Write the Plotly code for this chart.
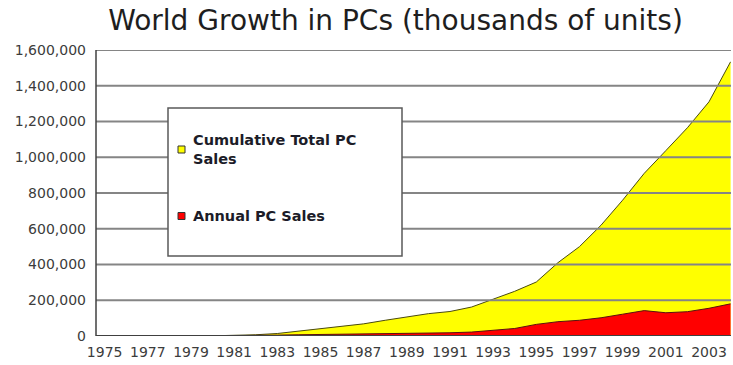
import plotly.graph_objects as go

# World PC sales, thousands of units
years = [1975, 1976, 1977, 1978, 1979, 1980, 1981, 1982, 1983, 1984,
         1985, 1986, 1987, 1988, 1989, 1990, 1991, 1992, 1993, 1994,
         1995, 1996, 1997, 1998, 1999, 2000, 2001, 2002, 2003, 2004]

cumulative_sales = [None, None, None, None, None, 1000, 3000, 7000, 14000, 28000,
                    41000, 53000, 68000, 88000, 107000, 125000, 137000, 162000, 206000, 250000,
                    302000, 410000, 500000, 620000, 760000, 910000, 1037000, 1165000, 1310000, 1534000]

annual_sales = [None, None, None, None, None, 500, 1000, 3000, 5000, 7000,
                8000, 9000, 10000, 12000, 14000, 16000, 18000, 22000, 30000, 42000,
                65000, 80000, 88000, 102000, 122000, 142000, 130000, 136000, 155000, 180000]

x_tick_years = [1975, 1977, 1979, 1981, 1983, 1985, 1987, 1989, 1991, 1993,
                1995, 1997, 1999, 2001, 2003]
y_tick_values = [0, 200000, 400000, 600000, 800000, 1000000, 1200000, 1400000, 1600000]

legend_labels = ["Cumulative Total PC<br>Sales", "Annual PC Sales"]
legend_colors = ["#ffff00", "#ff0000"]

W, H = 733, 365
L, R, T, B = 96, 2, 50, 29
plot_w = W - L - R
plot_h = H - T - B


def px_x(px):
    return (px - L) / plot_w


def px_y(py):
    return (H - B - py) / plot_h


fig = go.Figure()

fig.add_trace(go.Scatter(
    x=years, y=cumulative_sales, mode="lines",
    line=dict(color="#4a4a10", width=1),
    fill="tozeroy", fillcolor="#ffff00",
    name="Cumulative Total PC Sales", hoverinfo="x+y",
))
fig.add_trace(go.Scatter(
    x=years, y=annual_sales, mode="lines",
    line=dict(color="#5a1010", width=1),
    fill="tozeroy", fillcolor="#ff0000",
    name="Annual PC Sales", hoverinfo="x+y",
))

shapes = []
# horizontal gridlines drawn over the filled areas
for v in y_tick_values[1:]:
    shapes.append(dict(type="line", xref="paper", yref="y", x0=0, x1=1, y0=v, y1=v,
                       line=dict(color="#858585", width=2), layer="above"))
# baseline and left axis
shapes.append(dict(type="line", xref="paper", yref="y", x0=0, x1=1, y0=0, y1=0,
                   line=dict(color="#404040", width=2), layer="above"))
shapes.append(dict(type="line", xref="paper", yref="paper", x0=0, x1=0, y0=0, y1=1,
                   line=dict(color="#404040", width=1.5), layer="above"))

# legend box
shapes.append(dict(type="rect", xref="paper", yref="paper",
                   x0=px_x(168), x1=px_x(402), y0=px_y(256), y1=px_y(108),
                   fillcolor="white", line=dict(color="#5a5a5a", width=1.5), layer="above"))
marker_centers = [(181.5, 149.5), (181.5, 216)]
for (cx, cy), col in zip(marker_centers, legend_colors):
    shapes.append(dict(type="rect", xref="paper", yref="paper",
                       x0=px_x(cx - 3.5), x1=px_x(cx + 3.5), y0=px_y(cy + 3.5), y1=px_y(cy - 3.5),
                       fillcolor=col, line=dict(color="#333333", width=1), layer="above"))

annotations = []
for (cx, cy), text in zip(marker_centers, legend_labels):
    annotations.append(dict(xref="paper", yref="paper", x=px_x(191), y=px_y(cy),
                            xanchor="left", yanchor="middle", align="left", showarrow=False,
                            text=text,
                            font=dict(family="DejaVu Sans", size=14.5, color="#1c1c28",
                                      weight="bold")))

fig.update_layout(
    width=W, height=H, autosize=False,
    margin=dict(l=L, r=R, t=T, b=B, pad=0),
    paper_bgcolor="white", plot_bgcolor="white",
    showlegend=False,
    title=dict(text="World Growth in PCs (thousands of units)",
               x=395.5 / W, xanchor="center", xref="container",
               y=1 - 20 / H, yanchor="middle",
               font=dict(family="DejaVu Sans", size=28, color="#1e1e1e")),
    xaxis=dict(range=[1974.6, 2004.02], tickvals=x_tick_years,
               ticktext=[str(y) for y in x_tick_years],
               showgrid=False, zeroline=False, showline=False, ticks="",
               ticklabelstandoff=6,
               tickfont=dict(family="DejaVu Sans", size=14, color="#3c3c3c")),
    yaxis=dict(range=[0, 1600000], tickvals=y_tick_values, tickformat=",d",
               showgrid=False, zeroline=False, showline=False, ticks="",
               ticklabelstandoff=9,
               tickfont=dict(family="DejaVu Sans", size=14, color="#3c3c3c")),
    shapes=shapes,
    annotations=annotations,
)

fig.write_html("out.html")
